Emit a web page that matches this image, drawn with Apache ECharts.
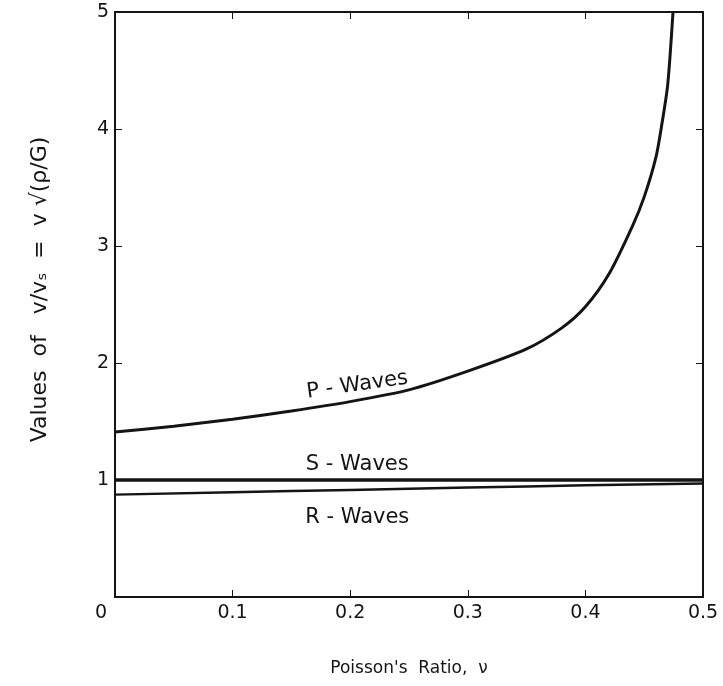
<!DOCTYPE html>
<html>
<head>
<meta charset="utf-8">
<script src="https://cdn.jsdelivr.net/npm/echarts@6/dist/echarts.min.js"></script>
<style>
  html, body { margin: 0; padding: 0; background: #fff; }
  #container { width: 723px; height: 686px; }
</style>
</head>
<body>
<div id="container"></div>
<script>
  // Poisson's ratio samples and read-off values
  var pRatio  = [0, 0.05, 0.1, 0.15, 0.2, 0.25, 0.3, 0.35, 0.38, 0.4, 0.42, 0.44, 0.45, 0.46, 0.465, 0.47, 0.4745];
  var pWaves  = [1.41, 1.46, 1.52, 1.59, 1.67, 1.77, 1.93, 2.12, 2.30, 2.48, 2.76, 3.17, 3.42, 3.76, 4.04, 4.38, 5.0];
  var sRatio  = [0, 0.1, 0.2, 0.3, 0.4, 0.5];
  var sWaves  = [1, 1, 1, 1, 1, 1];
  var rWaves  = [0.875, 0.895, 0.915, 0.935, 0.955, 0.97];
  var xTicks  = ['0', '0.1', '0.2', '0.3', '0.4', '0.5'];

  function pairs(xs, ys){
    var out = [];
    for (var i = 0; i < xs.length; i++) out.push([xs[i], ys[i]]);
    return out;
  }

  var ink = '#141414';
  var font = 'DejaVu Sans';

  function waveLabel(text, x, y, rot){
    return {
      symbol: 'circle', symbolSize: 0, coord: [x, y],
      label: { show: true, position: 'inside', formatter: text, rotate: rot || 0,
               color: ink, fontSize: 21, fontFamily: font }
    };
  }

  var myChart = echarts.init(document.getElementById('container'));
  var option = {
    backgroundColor: '#fff',
    animation: false,
    grid: { left: 115, right: 20, top: 12, bottom: 89 },
    xAxis: [{
      type: 'value', min: 0, max: 0.5, interval: 0.1,
      name: "Poisson's  Ratio,  ν", nameLocation: 'middle', nameGap: 63,
      nameTextStyle: { color: ink, fontSize: 17, fontFamily: font },
      axisLine: { show: true, onZero: false, lineStyle: { color: ink, width: 2 } },
      axisTick: { show: true, inside: true, length: 7, lineStyle: { color: ink } },
      axisLabel: {
        color: ink, fontSize: 19, fontFamily: font, margin: 7,
        formatter: function(v){
          var i = Math.round(v * 10);
          return i === 0 ? '{z|' + xTicks[0] + '}' : xTicks[i];
        },
        rich: { z: { padding: [0, 28, 0, 0], fontSize: 19, fontFamily: font, color: ink } }
      },
      splitLine: { show: false }
    }, {
      type: 'value', min: 0, max: 0.5, interval: 0.1, position: 'top',
      axisLine: { show: true, onZero: false, lineStyle: { color: ink, width: 2 } },
      axisTick: { show: true, inside: true, length: 7, lineStyle: { color: ink } },
      axisLabel: { show: false }, splitLine: { show: false }
    }],
    yAxis: [{
      type: 'value', min: 0, max: 5, interval: 1,
      name: 'Values  of   v/vₛ  =  v √(ρ/G)', nameLocation: 'middle', nameGap: 64,
      nameTextStyle: { color: ink, fontSize: 22, fontFamily: font, padding: [0, 0, 0, 30] },
      axisLine: { show: true, onZero: false, lineStyle: { color: ink, width: 2 } },
      axisTick: { show: true, inside: true, length: 7, lineStyle: { color: ink } },
      axisLabel: {
        color: ink, fontSize: 19, fontFamily: font, margin: 6,
        formatter: function(v){ return v === 0 ? '' : String(v); }
      },
      splitLine: { show: false }
    }, {
      type: 'value', min: 0, max: 5, interval: 1, position: 'right',
      axisLine: { show: true, onZero: false, lineStyle: { color: ink, width: 2 } },
      axisTick: { show: true, inside: true, length: 7, lineStyle: { color: ink } },
      axisLabel: { show: false }, splitLine: { show: false }
    }],
    series: [{
      name: 'P-Waves', type: 'line', smooth: 0.25, showSymbol: false, clip: true,
      data: pairs(pRatio, pWaves),
      lineStyle: { color: ink, width: 3 },
      markPoint: { silent: true, data: [ waveLabel('P - Waves', 0.206, 1.81, 8) ] }
    }, {
      name: 'S-Waves', type: 'line', showSymbol: false,
      data: pairs(sRatio, sWaves),
      lineStyle: { color: ink, width: 3.5 },
      markPoint: { silent: true, data: [ waveLabel('S - Waves', 0.206, 1.13) ] }
    }, {
      name: 'R-Waves', type: 'line', smooth: true, showSymbol: false,
      data: pairs(sRatio, rWaves),
      lineStyle: { color: ink, width: 2.5 },
      markPoint: { silent: true, data: [ waveLabel('R - Waves', 0.206, 0.68) ] }
    }]
  };
  myChart.setOption(option);
</script>
</body>
</html>
